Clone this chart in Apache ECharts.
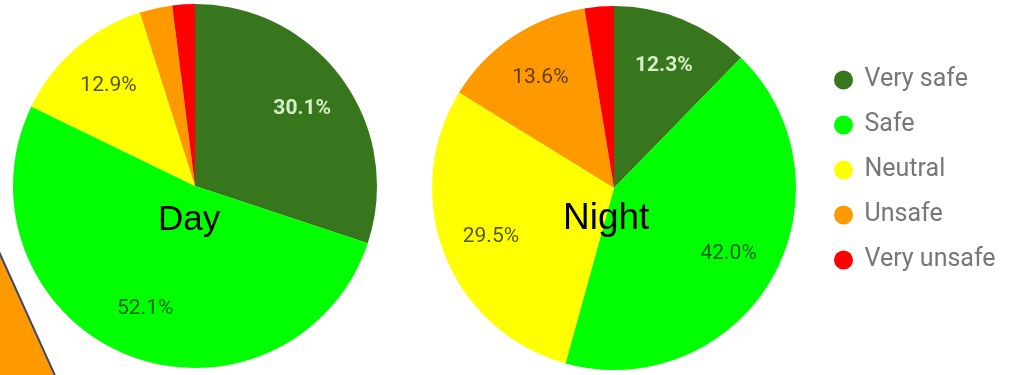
<!DOCTYPE html>
<html>
<head>
<meta charset="utf-8">
<script src="https://cdn.jsdelivr.net/npm/echarts@6/dist/echarts.min.js"></script>
<style>
html,body{margin:0;padding:0;background:#fff;}
#c{width:1011px;height:375px;}
</style>
</head>
<body>
<div id="c"></div>
<script>
const categories = ['Very safe', 'Safe', 'Neutral', 'Unsafe', 'Very unsafe'];
const dayValues = [30.1, 52.1, 12.9, 2.9, 2.0];
const nightValues = [12.3, 42.0, 29.5, 13.6, 2.6];
const colors = ['#38761d', '#00ff00', '#ffff00', '#ff9900', '#ff0000'];
const labelColors = ['#d6efc9', 'rgba(0,0,0,0.62)', 'rgba(0,0,0,0.68)', 'rgba(0,0,0,0.62)', 'rgba(0,0,0,0.62)'];
const labelWeights = ['bold', 'normal', 'normal', 'normal', 'normal'];

const chart = echarts.init(document.getElementById('c'));
const R = 182;

function pieData(vals, withLabel) {
  return categories.map((name, i) => ({
    name: name,
    value: vals[i],
    itemStyle: withLabel ? {color: 'rgba(0,0,0,0)'} : {color: colors[i]},
    label: withLabel ? {
      show: vals[i] >= 5,
      color: labelColors[i],
      fontWeight: labelWeights[i]
    } : {show: false}
  }));
}

function pieSeries(vals, center) {
  return [
    {
      type: 'pie', center: center, radius: [0, R],
      startAngle: 90, clockwise: true, silent: true,
      data: pieData(vals, false),
      label: {show: false}, labelLine: {show: false},
      itemStyle: {borderWidth: 0}, animation: false
    },
    {
      type: 'pie', center: center, radius: [R * 0.42, R],
      startAngle: 90, clockwise: true, silent: true,
      legendHoverLink: false,
      data: pieData(vals, true),
      label: {
        show: true, position: 'inside',
        fontFamily: 'Roboto', fontSize: 21,
        formatter: p => p.value.toFixed(1) + '%'
      },
      labelLine: {show: false},
      itemStyle: {borderWidth: 0}, animation: false
    }
  ];
}

chart.setOption({
  animation: false,
  color: colors,
  legend: {
    orient: 'vertical', left: 829, top: 62,
    icon: 'circle', itemWidth: 32, itemHeight: 19, itemGap: 19,
    data: categories,
    textStyle: {fontFamily: 'Roboto', fontSize: 25, color: '#777', lineHeight: 26},
    selectedMode: false
  },
  graphic: [
    {
      type: 'polygon', silent: true, z: 0,
      shape: {points: [[-5, 243], [57, 380], [-5, 380]]},
      style: {fill: '#ff9900', stroke: '#3f4a6b', lineWidth: 2}
    },
    {
      type: 'text', left: 158, top: 203, z: 100,
      style: {text: 'Day', font: '35px "Liberation Sans", Arial', fill: '#000'}
    },
    {
      type: 'text', left: 563, top: 200, z: 100,
      style: {text: 'Night', font: '37px "Liberation Sans", Arial', fill: '#000'}
    }
  ],
  series: [].concat(pieSeries(dayValues, [195, 186]), pieSeries(nightValues, [614, 188]))
});
</script>
</body>
</html>
